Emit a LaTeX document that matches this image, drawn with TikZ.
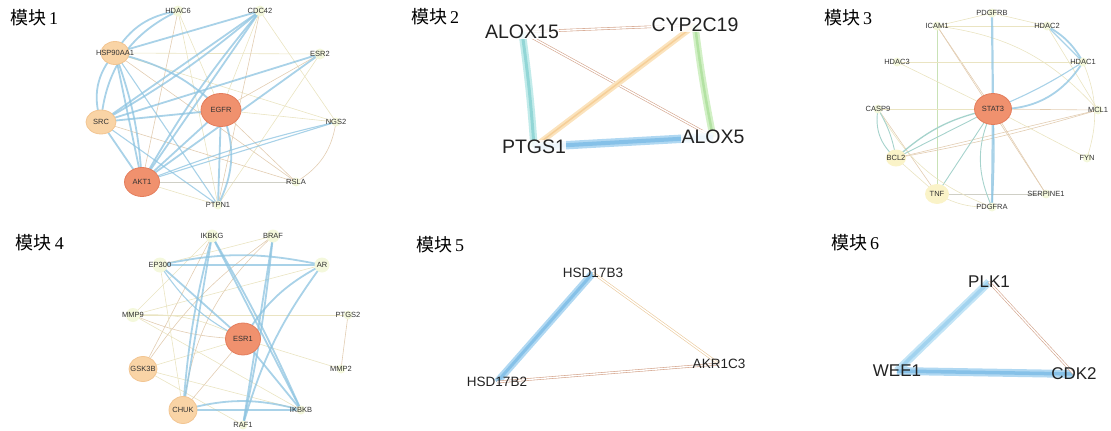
\documentclass[tikz,border=0pt]{standalone}
\usepackage{fontspec}
\setmainfont{Liberation Sans}
\newfontfamily\cjkfont{Noto Sans CJK SC}
\newfontfamily\numfont{Liberation Serif}
\usetikzlibrary{backgrounds,shapes.geometric}

\definecolor{blueE}{HTML}{8CC3E0}
\definecolor{beigeE}{HTML}{EAE4C2}
\definecolor{tanE}{HTML}{E2CDB2}
\definecolor{tealE}{HTML}{A6D3CC}
\definecolor{greenE}{HTML}{C9E2B6}
\definecolor{grayE}{HTML}{CFCFC6}
\definecolor{brownE}{HTML}{D4A48C}
\definecolor{peachE}{HTML}{EBC99A}
\definecolor{orF}{HTML}{F0916E}
\definecolor{orD}{HTML}{E47D5C}
\definecolor{ltF}{HTML}{F9D4A6}
\definecolor{ltD}{HTML}{F2C592}
\definecolor{ylF}{HTML}{FAF3C8}
\definecolor{paleF}{HTML}{F4F8DC}
\definecolor{labC}{HTML}{333333}
\definecolor{darkC}{HTML}{222222}
% outer / inner tones of the heavy links
\definecolor{orgO}{HTML}{FBE3BD}
\definecolor{orgI}{HTML}{F6CF98}
\definecolor{tealO}{HTML}{C2EBEA}
\definecolor{tealI}{HTML}{92D6D6}
\definecolor{grnO}{HTML}{D2F0C6}
\definecolor{grnI}{HTML}{B3E2A3}
\definecolor{bluO}{HTML}{B0D8F2}
\definecolor{bluI}{HTML}{86C1E8}
\definecolor{skyO}{HTML}{C2E4F6}
\definecolor{skyI}{HTML}{A2D3EF}

\newcommand\mtitle[1]{{\cjkfont 模块}\,{\numfont #1}}

\begin{document}
\begin{tikzpicture}[x=1pt,y=-1pt,
  title/.style={font=\fontsize{18}{18}\selectfont, text=black, inner sep=0},
  lab/.style={font=\fontsize{7.5}{8}\selectfont, text=labC, inner sep=0},
  labL/.style={font=\fontsize{#1}{#1}\selectfont, text=darkC, inner sep=0},
  halo/.style={fill=white, fill opacity=.85, text opacity=1, inner sep=.5pt},
  big/.style 2 args={ellipse, draw=orD, fill=orF, line width=.8pt, inner sep=0,
    minimum width=#1, minimum height=#2},
  mid/.style 2 args={ellipse, draw=ltD, fill=ltF, line width=.8pt, inner sep=0,
    minimum width=#1, minimum height=#2},
  yel/.style 2 args={ellipse, fill=ylF, inner sep=0,
    minimum width=#1, minimum height=#2},
  pale/.style={circle, fill=paleF, inner sep=0, minimum size=#1},
  bl/.style={draw=blueE, line width=1.8pt, opacity=.75},
  blt/.style={draw=blueE, line width=1.1pt, opacity=.75},
  bg/.style={draw=beigeE, line width=.6pt},
  tn/.style={draw=tanE, line width=.6pt},
  tl/.style={draw=tealE, line width=.9pt},
  gr/.style={draw=greenE, line width=.8pt},
  gy/.style={draw=grayE, line width=.6pt},
  dbl/.style={draw=#1, line width=.6pt, double=white, double distance=1.4pt},
  core/.style n args={3}{draw=#1, line width=2.2pt, double=#2, double distance=#3},
]
\useasboundingbox (0,0) rectangle (1111,431);

% ---------- titles ----------
\node[title] (t1) at (34,18) {\mtitle{1}};
\node[title] (t2) at (435,17) {\mtitle{2}};
\node[title] (t3) at (848,18) {\mtitle{3}};
\node[title] (t4) at (40,243) {\mtitle{4}};
\node[title] (t5) at (440,245) {\mtitle{5}};
\node[title] (t6) at (855,243) {\mtitle{6}};

% ---------- module 1 ----------
\node[pale=11pt, label={[lab]center:HDAC6}] (m1hd6) at (178,11) {};
\node[pale=11pt, label={[lab]center:CDC42}] (m1cdc) at (260,11) {};
\node[mid={28pt}{23pt}, label={[lab]center:HSP90AA1}] (m1hsp) at (115,53) {};
\node[pale=11pt, label={[lab]center:ESR2}] (m1esr2) at (320,54) {};
\node[big={40pt}{33pt}, label={[lab]center:EGFR}] (m1egfr) at (221,110) {};
\node[mid={30pt}{24pt}, label={[lab]center:SRC}] (m1src) at (101,122) {};
\node[pale=9pt, label={[lab]center:NGS2}] (m1ngs2) at (336,122) {};
\node[big={35pt}{29pt}, label={[lab]center:AKT1}] (m1akt1) at (142,182) {};
\node[pale=9pt, label={[lab]center:RSLA}] (m1rsla) at (296,182) {};
\node[pale=9pt, label={[lab]center:PTPN1}] (m1ptp) at (218,205) {};

% ---------- module 2 ----------
\node[labL=19.5, halo] (m2a15) at (522,32) {ALOX15};
\node[labL=19.5, halo] (m2cyp) at (695,25) {CYP2C19};
\node[labL=19.5, halo] (m2ptg) at (534,147) {PTGS1};
\node[labL=19.5, halo] (m2a5) at (713,137) {ALOX5};

% ---------- module 3 ----------
\node[pale=9pt, label={[lab]center:PDGFRB}] (m3pdb) at (992,13) {};
\node[pale=9pt, label={[lab]center:ICAM1}] (m3icam) at (937,26) {};
\node[pale=9pt, label={[lab]center:HDAC2}] (m3hd2) at (1047,26) {};
\node[pale=9pt, label={[lab]center:HDAC3}] (m3hd3) at (897,62) {};
\node[pale=9pt, label={[lab]center:HDAC1}] (m3hd1) at (1083,62) {};
\node[big={37pt}{31pt}, label={[lab]center:STAT3}] (m3st3) at (993,109) {};
\node[pale=9pt, label={[lab]center:CASP9}] (m3casp) at (878,109) {};
\node[pale=9pt, label={[lab]center:MCL1}] (m3mcl) at (1098,110) {};
\node[yel={20pt}{17pt}, label={[lab]center:BCL2}] (m3bcl) at (896,158) {};
\node[pale=9pt, label={[lab]center:FYN}] (m3fyn) at (1087,158) {};
\node[yel={24pt}{20pt}, label={[lab]center:TNF}] (m3tnf) at (937,194) {};
\node[pale=9pt, label={[lab]center:SERPINE1}] (m3serp) at (1046,194) {};
\node[pale=9pt, label={[lab]center:PDGFRA}] (m3pda) at (992,207) {};

% ---------- module 4 ----------
\node[pale=13pt, label={[lab]center:IKBKG}] (m4ikg) at (212,236) {};
\node[pale=13pt, label={[lab]center:BRAF}] (m4braf) at (273,236) {};
\node[pale=15pt, label={[lab]center:EP300}] (m4ep) at (160,265) {};
\node[pale=15pt, label={[lab]center:AR}] (m4ar) at (322,265) {};
\node[pale=14pt, label={[lab]center:MMP9}] (m4mmp9) at (133,315) {};
\node[pale=9pt, label={[lab]center:PTGS2}] (m4ptg2) at (348,315) {};
\node[big={35pt}{32pt}, label={[lab]center:ESR1}] (m4esr1) at (243,339) {};
\node[mid={28pt}{25pt}, label={[lab]center:GSK3B}] (m4gsk) at (143,369) {};
\node[pale=9pt, label={[lab]center:MMP2}] (m4mmp2) at (341,369) {};
\node[mid={28pt}{27pt}, label={[lab]center:CHUK}] (m4chuk) at (183,410) {};
\node[pale=9pt, label={[lab]center:IKBKB}] (m4ikb) at (301,410) {};
\node[pale=9pt, label={[lab]center:RAF1}] (m4raf) at (243,425) {};

% ---------- module 5 ----------
\node[labL=13.5] (m5h3) at (593,273) {HSD17B3};
\node[labL=13.5] (m5akr) at (719,364) {AKR1C3};
\node[labL=13.5] (m5h2) at (497,382) {HSD17B2};

% ---------- module 6 ----------
\node[labL=17] (m6plk) at (989,282) {PLK1};
\node[labL=17] (m6wee) at (897,371) {WEE1};
\node[labL=17] (m6cdk) at (1074,374) {CDK2};

\begin{pgfonlayer}{background}
% module 1: weak links
\draw[bg] (m1hsp.center) -- (m1esr2.center);
\draw[bg] (m1hsp.center) -- (m1ngs2.center);
\draw[tn] (m1hsp.center) -- (m1rsla.center);
\draw[tn] (m1hd6.center) -- (m1akt1.center);
\draw[bg] (m1hd6.center) -- (m1ptp.center);
\draw[bg] (m1hd6.center) -- (m1egfr.center);
\draw[bg] (m1cdc.center) -- (m1egfr.center);
\draw[tn] (m1cdc.center) -- (m1ptp.center);
\draw[bg] (m1cdc.center) -- (m1ngs2.center);
\draw[tn] (m1esr2.center) -- (m1egfr.center);
\draw[bg] (m1esr2.center) -- (m1ptp.center);
\draw[tn] (m1egfr.center) -- (m1rsla.center);
\draw[bg] (m1egfr.center) -- (m1ngs2.center);
\draw[gy] (m1akt1.center) -- (m1rsla.center);
\draw[tn] (m1ngs2.center) to[bend left=25] (m1rsla.center);
\draw[tn] (m1src.center) -- (m1rsla.center);
\draw[bg] (m1akt1.center) -- (m1ptp.center);
% module 1: strong links
\draw[bl] (m1hsp.center) to[bend left=25] (m1hd6.center);
\draw[bl] (m1src.center) to[bend left=30] (m1hd6.center);
\draw[bl] (m1hsp.center) -- (m1cdc.center);
\draw[bl] (m1hsp.center) to[bend right=30] (m1src.center);
\draw[bl] (m1hsp.center) -- (m1akt1.center);
\draw[bl] (m1hsp.center) to[bend left=8] (m1akt1.center);
\draw[bl] (m1hsp.center) to[bend left=15] (m1egfr.center);
\draw[blt] (m1hsp.center) -- (m1ptp.center);
\draw[bl] (m1src.center) -- (m1cdc.center);
\draw[bl] (m1src.center) to[bend right=5] (m1cdc.center);
\draw[bl] (m1src.center) -- (m1esr2.center);
\draw[bl] (m1src.center) -- (m1egfr.center);
\draw[bl] (m1src.center) -- (m1akt1.center);
\draw[blt] (m1src.center) -- (m1ptp.center);
\draw[bl] (m1akt1.center) -- (m1cdc.center);
\draw[bl] (m1akt1.center) to[bend left=5] (m1cdc.center);
\draw[bl] (m1akt1.center) -- (m1esr2.center);
\draw[bl] (m1akt1.center) -- (m1egfr.center);
\draw[blt] (m1akt1.center) -- (m1ngs2.center);
\draw[blt] (m1akt1.center) to[bend left=4] (m1ngs2.center);
\draw[bl] (m1egfr.center) -- (m1ptp.center);
\draw[bl] (m1egfr.center) to[bend left=25] (m1ptp.center);

% module 2
\draw[dbl=brownE] (m2a15.center) -- (m2cyp.center);
\draw[dbl=brownE] (m2a15.center) -- (m2a5.center);
\draw[core={orgO}{orgI}{1.5pt}] (m2cyp.center) -- (m2ptg.center);
\draw[core={tealO}{tealI}{3pt}] (m2a15.center) to[bend left=2] (m2ptg.center);
\draw[core={grnO}{grnI}{2.5pt}] (m2cyp.center) to[bend right=2] (m2a5.center);
\draw[core={bluO}{bluI}{4pt}] (m2ptg.center) -- (m2a5.center);

% module 3: weak links
\draw[gr] (m3icam.center) -- (m3tnf.center);
\draw[tn] (m3icam.center) -- (m3st3.center);
\draw[tn] (m3icam.center) -- (m3serp.center);
\draw[bg] (m3icam.center) -- (m3hd2.center);
\draw[bg] (m3icam.center) -- (m3pdb.center);
\draw[bg] (m3pdb.center) -- (m3hd2.center);
\draw[bg] (m3hd3.center) -- (m3hd1.center);
\draw[bg] (m3hd3.center) -- (m3st3.center);
\draw[bg] (m3casp.center) -- (m3st3.center);
\draw[tn] (m3st3.center) -- (m3mcl.center);
\draw[tn] (m3bcl.center) -- (m3mcl.center);
\draw[tn] (m3bcl.center) to[bend right=3] (m3mcl.center);
\draw[bg] (m3st3.center) -- (m3fyn.center);
\draw[tn] (m3st3.center) -- (m3serp.center);
\draw[gy] (m3tnf.center) -- (m3serp.center);
\draw[bg] (m3tnf.center) to[bend right=15] (m3pda.center);
\draw[tn] (m3casp.center) -- (m3tnf.center);
\draw[bg] (m3bcl.center) -- (m3tnf.center);
\draw[tl] (m3st3.center) -- (m3tnf.center);
\draw[bg] (m3icam.center) to[bend left=20] (m3mcl.center);
\draw[bg] (m3hd2.center) -- (m3mcl.center);
\draw[bg] (m3hd1.center) to[bend left=20] (m3fyn.center);
\draw[bg] (m3casp.center) to[bend right=20] (m3pda.center);
% module 3: strong links
\draw[bl, line width=2.2pt] (m3pdb.center) -- (m3st3.center);
\draw[bl, line width=2.2pt] (m3st3.center) -- (m3pda.center);
\draw[blt] (m3st3.center) to[bend left=3] (m3pda.center);
\draw[bl] (m3hd2.center) to[bend left=15] (m3hd1.center);
\draw[blt] (m3hd2.center) -- (m3hd1.center);
\draw[bl] (m3hd1.center) to[bend left=30] (m3st3.center);
\draw[blt] (m3hd1.center) to[bend left=5] (m3st3.center);
\draw[tl, line width=1.3pt] (m3st3.center) to[bend right=15] (m3bcl.center);
\draw[tl] (m3st3.center) -- (m3bcl.center);
\draw[tl] (m3casp.center) to[bend right=30] (m3bcl.center);
\draw[tl] (m3casp.center) to[bend left=10] (m3bcl.center);
\draw[tl] (m3st3.center) to[bend right=25] (m3pda.center);

% module 4: weak links
\draw[bg] (m4mmp9.center) -- (m4ptg2.center);
\draw[tn] (m4ptg2.center) -- (m4mmp2.center);
\draw[tn] (m4mmp9.center) to[bend right=10] (m4esr1.center);
\draw[bg] (m4mmp9.center) to[bend left=15] (m4esr1.center);
\draw[bg] (m4mmp9.center) -- (m4ikb.center);
\draw[tn] (m4gsk.center) -- (m4ikg.center);
\draw[tn] (m4gsk.center) to[bend left=10] (m4braf.center);
\draw[bg] (m4gsk.center) -- (m4esr1.center);
\draw[bg] (m4gsk.center) -- (m4raf.center);
\draw[bg] (m4gsk.center) -- (m4ikb.center);
\draw[tn] (m4chuk.center) -- (m4esr1.center);
\draw[bg] (m4ep.center) -- (m4chuk.center);
\draw[bg] (m4esr1.center) -- (m4mmp2.center);
\draw[bg] (m4braf.center) -- (m4ep.center);
\draw[bg] (m4ikg.center) -- (m4mmp9.center);
\draw[bg] (m4ar.center) -- (m4mmp9.center);
\draw[tn] (m4braf.center) to[bend right=20] (m4chuk.center);
% module 4: strong links
\draw[bl] (m4ikg.center) -- (m4chuk.center);
\draw[bl] (m4ikg.center) to[bend right=5] (m4chuk.center);
\draw[bl] (m4ikg.center) -- (m4ikb.center);
\draw[bl] (m4ikg.center) to[bend left=3] (m4ikb.center);
\draw[bl] (m4braf.center) -- (m4raf.center);
\draw[bl] (m4braf.center) to[bend left=3] (m4raf.center);
\draw[bl] (m4ep.center) -- (m4ar.center);
\draw[bl] (m4ep.center) to[bend left=12] (m4ar.center);
\draw[bl] (m4ep.center) -- (m4esr1.center);
\draw[blt] (m4ep.center) to[bend right=15] (m4esr1.center);
\draw[bl] (m4ar.center) to[bend right=15] (m4esr1.center);
\draw[bl] (m4ar.center) to[bend right=10] (m4raf.center);
\draw[bl] (m4chuk.center) -- (m4ikb.center);
\draw[bl] (m4chuk.center) to[bend left=15] (m4ikb.center);
\draw[bl] (m4esr1.center) -- (m4ikb.center);

% module 5
\draw[core={bluO}{bluI}{3pt}] (m5h3.center) -- (m5h2.center);
\draw[dbl=peachE] (m5h3.center) -- (m5akr.center);
\draw[dbl=brownE] (m5h2.center) -- (m5akr.center);

% module 6
\draw[core={skyO}{skyI}{3.5pt}] (m6plk.center) -- (m6wee.center);
\draw[core={bluO}{bluI}{3.5pt}] (m6wee.center) -- (m6cdk.center);
\draw[dbl=brownE] (m6plk.center) -- (m6cdk.center);
\end{pgfonlayer}
\end{tikzpicture}
\end{document}
